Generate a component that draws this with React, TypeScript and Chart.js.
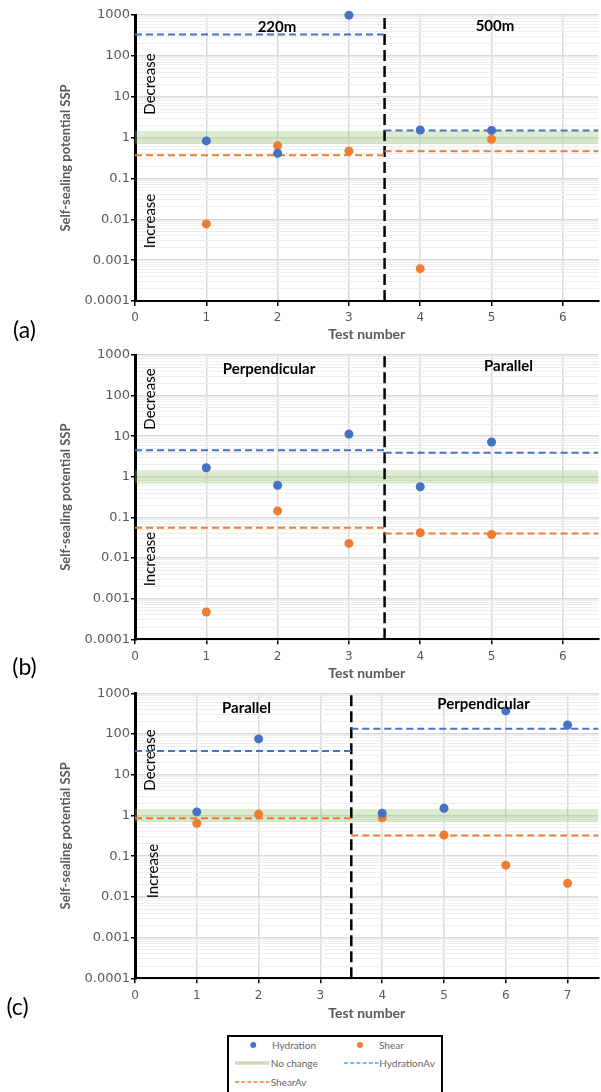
import React, { useEffect, useRef } from "react";
import { Chart, registerables } from "chart.js";

Chart.register(...registerables);

const HYD = "#4472C4";
const SHEAR = "#ED7D31";
const BAND = "rgba(146,196,112,0.33)";

// Panel (a)
const testsA = [1, 2, 3, 4, 5];
const hydrationA = [0.83, 0.41, 990, 1.53, 1.5];
const shearA = [0.0077, 0.63, 0.47, 0.00062, 0.91];
const hydrationAvA = [334, 1.5];
const shearAvA = [0.37, 0.46];
const groupNamesA = ["220m", "500m"];

// Panel (b)
const testsB = [1, 2, 3, 4, 5];
const hydrationB = [1.67, 0.62, 11.3, 0.57, 7.2];
const shearB = [0.00047, 0.145, 0.023, 0.042, 0.038];
const hydrationAvB = [4.5, 3.9];
const shearAvB = [0.056, 0.04];
const groupNamesB = ["Perpendicular", "Parallel"];

// Panel (c)
const testsC = [1, 2, 4, 5, 6, 7];
const hydrationC = [1.22, 75.7, 1.13, 1.5, 369, 167];
const shearC = [0.64, 1.07, 0.88, 0.33, 0.06, 0.0216];
const hydrationAvC = [38.5, 135];
const shearAvC = [0.855, 0.323];
const groupNamesC = ["Parallel", "Perpendicular"];

// Axes
const xTicksAB = [0, 1, 2, 3, 4, 5, 6];
const xTicksC = [0, 1, 2, 3, 4, 5, 6, 7];
const yTickValues = [0.0001, 0.001, 0.01, 0.1, 1, 10, 100, 1000];
const yTickLabels = ["0.0001", "0.001", "0.01", "0.1", "1", "10", "100", "1000"];
const minorSteps = [2, 3, 4, 5, 6, 7, 8, 9];
const noChangeValue = 1;
const splitTest = 3.5;

const yAllTicks: number[] = yTickValues.flatMap((d, i) =>
  i < yTickValues.length - 1 ? [d, ...minorSteps.map((m) => m * d)] : [d]
);

function isDecade(v: number) {
  const l = Math.log10(v);
  return Math.abs(l - Math.round(l)) < 1e-6;
}
function decadeLabel(v: number) {
  if (!isDecade(v)) return "";
  const i = yTickValues.findIndex((t) => Math.abs(Math.log10(t) - Math.log10(v)) < 1e-6);
  return i >= 0 ? yTickLabels[i] : "";
}

const CW = 603;
const CH = 345;

type PanelCfg = {
  top: number;
  plotTop: number;
  plotBottom: number;
  titleCenter: number;
  xMax: number;
  xTicks: number[];
  tests: number[];
  hydration: number[];
  shear: number[];
  hydAv: number[];
  shearAv: number[];
  groups: string[];
  letter: string;
  letterPos: [number, number];
  groupPos: [number, number][];
  decPos: [number, number];
  incPos: [number, number];
};

const panels: PanelCfg[] = [
  {
    top: 0, plotTop: 15, plotBottom: 301, titleCenter: 334.7, xMax: 6.5, xTicks: xTicksAB,
    tests: testsA, hydration: hydrationA, shear: shearA, hydAv: hydrationAvA, shearAv: shearAvA,
    groups: groupNamesA, letter: "(a)", letterPos: [24.5, 329],
    groupPos: [[277, 26], [495, 25]], decPos: [148.5, 84], incPos: [149, 221],
  },
  {
    top: 340, plotTop: 15, plotBottom: 299.3, titleCenter: 333, xMax: 6.5, xTicks: xTicksAB,
    tests: testsB, hydration: hydrationB, shear: shearB, hydAv: hydrationAvB, shearAv: shearAvB,
    groups: groupNamesB, letter: "(b)", letterPos: [24.5, 666],
    groupPos: [[269, 368], [508.5, 364.5]], decPos: [149, 399], incPos: [149, 559],
  },
  {
    top: 680, plotTop: 13.3, plotBottom: 298.3, titleCenter: 333, xMax: 7.5, xTicks: xTicksC,
    tests: testsC, hydration: hydrationC, shear: shearC, hydAv: hydrationAvC, shearAv: shearAvC,
    groups: groupNamesC, letter: "(c)", letterPos: [17.5, 1006],
    groupPos: [[246.5, 707], [483.5, 702.5]], decPos: [149, 760], incPos: [152, 871],
  },
];

function ChartPanel({ p }: { p: PanelCfg }) {
  const ref = useRef<HTMLCanvasElement>(null);
  useEffect(() => {
    const canvas = ref.current;
    if (!canvas) return;
    const bounds = [0, splitTest, p.xMax];
    const seg = (vals: number[]) =>
      vals.map((v, i) => [
        { x: bounds[i], y: v },
        { x: bounds[i + 1], y: v },
      ]);
    const lineBase = { showLine: true, pointRadius: 0, pointHoverRadius: 0, fill: false, tension: 0 };
    const datasets: any[] = [
      {
        label: "Hydration",
        data: p.tests.map((t, i) => ({ x: t, y: p.hydration[i] })),
        backgroundColor: HYD, borderColor: HYD, borderWidth: 0, pointBorderWidth: 0,
        pointRadius: 4.5, order: 0, clip: false,
      },
      {
        label: "Shear",
        data: p.tests.map((t, i) => ({ x: t, y: p.shear[i] })),
        backgroundColor: SHEAR, borderColor: SHEAR, borderWidth: 0, pointBorderWidth: 0,
        pointRadius: 4.5, order: 0, clip: false,
      },
      ...seg(p.hydAv).map((d) => ({
        ...lineBase, label: "HydrationAv", data: d, borderColor: HYD, borderWidth: 2, borderDash: [7, 4], order: 1,
      })),
      ...seg(p.shearAv).map((d) => ({
        ...lineBase, label: "ShearAv", data: d, borderColor: SHEAR, borderWidth: 2, borderDash: [7, 4], order: 1,
      })),
      {
        ...lineBase, label: "Split",
        data: [
          { x: splitTest, y: yTickValues[0] },
          { x: splitTest, y: yTickValues[yTickValues.length - 1] },
        ],
        borderColor: "#000", borderWidth: 2.5, borderDash: [11, 5], order: 2,
      },
      {
        ...lineBase, label: "No change",
        data: [
          { x: 0, y: noChangeValue },
          { x: p.xMax, y: noChangeValue },
        ],
        borderColor: BAND, borderWidth: 13, order: 3,
      },
    ];

    const chart = new Chart(canvas, {
      type: "scatter",
      data: { datasets },
      options: {
        animation: false,
        responsive: false,
        maintainAspectRatio: false,
        devicePixelRatio: 1,
        events: [],
        layout: { padding: { top: p.plotTop, left: 0, right: 0, bottom: 0 } },
        plugins: { legend: { display: false }, tooltip: { enabled: false } },
        scales: {
          x: {
            type: "linear",
            min: 0,
            max: p.xMax,
            afterBuildTicks: (s: any) => {
              s.ticks = p.xTicks.map((v) => ({ value: v }));
            },
            afterFit: (s: any) => {
              s.height = CH - p.plotBottom;
            },
            grid: { color: "#d9d9d9", lineWidth: 1.5, tickLength: 5, tickColor: "#000", drawTicks: true },
            border: { color: "#000", width: 2 },
            ticks: {
              color: "#595959",
              font: { family: "DejaVu Sans", size: 12 },
              padding: 5,
              autoSkip: false,
              maxRotation: 0,
              callback: (v: any) => String(v),
            },
            title: {
              display: true,
              text: "Test number",
              color: "#595959",
              font: { family: "Lato", size: 14, weight: "bold" },
              padding: { top: 0, bottom: CH - p.titleCenter - 8.4 },
            },
          },
          y: {
            type: "logarithmic",
            min: yTickValues[0],
            max: yTickValues[yTickValues.length - 1],
            afterBuildTicks: (s: any) => {
              s.ticks = yAllTicks.map((v) => ({ value: v, major: isDecade(v) }));
            },
            afterFit: (s: any) => {
              s.width = 135;
            },
            grid: {
              color: (c: any) => (c.tick && isDecade(c.tick.value) ? "#d9d9d9" : "#eeeeee"),
              lineWidth: (c: any) => (c.tick && isDecade(c.tick.value) ? 1.5 : 1),
              tickColor: (c: any) => (c.tick && isDecade(c.tick.value) ? "#000" : "rgba(0,0,0,0)"),
              tickLength: 4,
              drawTicks: true,
            },
            border: { color: "#000", width: 3 },
            ticks: {
              color: "#595959",
              font: { family: "DejaVu Sans", size: 13 },
              padding: 1,
              autoSkip: false,
              callback: (v: any) => decadeLabel(Number(v)),
            },
            title: {
              display: true,
              text: "Self-sealing potential SSP",
              color: "#595959",
              font: { family: "Lato", size: 13, weight: "bold" },
              padding: { top: 58, bottom: 0 },
            },
          },
        },
      } as any,
    });
    return () => chart.destroy();
  }, [p]);

  return (
    <canvas
      ref={ref}
      width={CW}
      height={CH}
      style={{ position: "absolute", left: 0, top: p.top, width: CW, height: CH }}
    />
  );
}

const centered = (x: number, y: number, rotate = false): React.CSSProperties => ({
  position: "absolute",
  left: x,
  top: y,
  transform: `translate(-50%, -50%)${rotate ? " rotate(-90deg)" : ""}`,
  whiteSpace: "nowrap",
  lineHeight: 1,
});

function Legend() {
  const txt: React.CSSProperties = {
    position: "absolute",
    fontSize: 10,
    color: "#666",
    fontFamily: "Lato, sans-serif",
    lineHeight: 1,
    transform: "translateY(-50%)",
    whiteSpace: "nowrap",
  };
  const L = 227;
  const T = 1035;
  return (
    <div
      style={{
        position: "absolute",
        left: L,
        top: T,
        width: 216,
        height: 80,
        border: "2px solid #000",
        boxSizing: "border-box",
        background: "#fff",
      }}
    >
      <svg width={216} height={80} style={{ position: "absolute", left: -2, top: -2 }}>
        <circle cx={253.3 - L} cy={1045 - T} r={3} fill={HYD} />
        <circle cx={360 - L} cy={1045 - T} r={3} fill={SHEAR} />
        <line x1={235 - L} y1={1063 - T} x2={269.5 - L} y2={1063 - T} stroke="#c9dfbb" strokeWidth={3.5} />
        <line x1={344 - L} y1={1063 - T} x2={378.5 - L} y2={1063 - T} stroke="#2fb2f0" strokeWidth={1.5} strokeDasharray="4 2.2" />
        <line x1={235 - L} y1={1082 - T} x2={269.5 - L} y2={1082 - T} stroke={SHEAR} strokeWidth={1.5} strokeDasharray="4 2.2" />
      </svg>
      <span style={{ ...txt, left: 272 - L - 2, top: 1045 - T - 2 }}>Hydration</span>
      <span style={{ ...txt, left: 379 - L - 2, top: 1045 - T - 2 }}>Shear</span>
      <span style={{ ...txt, left: 270.7 - L - 2, top: 1063 - T - 2 }}>No change</span>
      <span style={{ ...txt, left: 379.3 - L - 2, top: 1063 - T - 2 }}>HydrationAv</span>
      <span style={{ ...txt, left: 270.7 - L - 2, top: 1082 - T - 2 }}>ShearAv</span>
    </div>
  );
}

export default function App() {
  return (
    <div
      style={{
        position: "absolute",
        left: 0,
        top: 0,
        width: 601,
        height: 1092,
        overflow: "hidden",
        background: "#fff",
        fontFamily: "Lato, sans-serif",
      }}
    >
      {panels.map((p, i) => (
        <ChartPanel key={i} p={p} />
      ))}
      {panels.map((p, i) => (
        <React.Fragment key={"t" + i}>
          <div style={{ ...centered(p.letterPos[0], p.letterPos[1]), fontSize: 23, color: "#000" }}>{p.letter}</div>
          {p.groups.map((g, j) => (
            <div
              key={j}
              style={{ ...centered(p.groupPos[j][0], p.groupPos[j][1]), fontSize: 15, fontWeight: 700, color: "#000" }}
            >
              {g}
            </div>
          ))}
          <div style={{ ...centered(p.decPos[0], p.decPos[1], true), fontSize: 15, color: "#000" }}>Decrease</div>
          <div style={{ ...centered(p.incPos[0], p.incPos[1], true), fontSize: 15, color: "#000" }}>Increase</div>
        </React.Fragment>
      ))}
      <Legend />
    </div>
  );
}
